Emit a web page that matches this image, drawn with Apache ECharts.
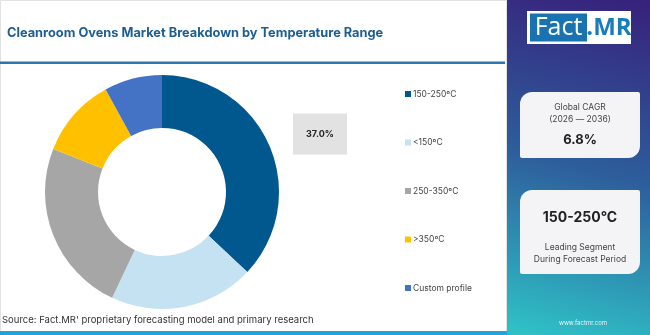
<!DOCTYPE html>
<html>
<head>
<meta charset="utf-8">
<script src="https://cdn.jsdelivr.net/npm/echarts@6/dist/echarts.min.js"></script>
<style>
  html, body { margin: 0; padding: 0; background: #fff; }
  #container { width: 650px; height: 335px; }
</style>
</head>
<body>
<div id="container"></div>
<script>
  // data
  var segments = ['150-250ºC', '<150ºC', '250-350ºC', '>350ºC', 'Custom profile'];
  var shares = [37.0, 20.0, 24.0, 11.0, 8.0];
  var segColors = ['#00588f', '#c5e2f2', '#a6a6a6', '#ffc000', '#4472c4'];

  var titleText = 'Cleanroom Ovens Market Breakdown by Temperature Range';
  var sourceText = "Source: Fact.MR' proprietary forecasting model and primary research";
  var cagrLines = ['Global CAGR', '(2026 — 2036)'];
  var cagrValue = '6.8%';
  var leadSegment = '150-250°C';
  var leadLines = ['Leading Segment', 'During Forecast Period'];

  var font = 'Inter, "Open Sans", sans-serif';

  var dom = document.getElementById('container');
  var myChart = echarts.init(dom, null, {renderer: 'canvas'});

  var pieData = [];
  segments.forEach(function (name, i) {
    var item = {name: name, value: shares[i], itemStyle: {color: segColors[i]}};
    if (i === 0) {
      item.label = {show: true};
    }
    pieData.push(item);
  });

  var option = {
    animation: false,
    backgroundColor: '#fff',
    title: {
      text: titleText,
      left: 2,
      top: 22,
      textStyle: {fontFamily: font, fontSize: 12.8, fontWeight: 'bold', color: '#1c5e92'}
    },
    legend: {
      orient: 'vertical',
      left: 400,
      top: 84,
      icon: 'rect',
      itemWidth: 6,
      itemHeight: 6,
      itemGap: 38.5,
      selectedMode: false,
      data: segments,
      textStyle: {fontFamily: font, fontSize: 8.5, color: '#444', lineHeight: 10, padding: [0, 0, 0, -3]}
    },
    series: [{
      type: 'pie',
      center: [162, 192],
      radius: [64, 117],
      startAngle: 90,
      clockwise: true,
      silent: true,
      label: {
        show: false,
        formatter: function (p) { return p.value.toFixed(1) + '%'; },
        backgroundColor: '#e2e2e2',
        padding: [16, 13],
        fontFamily: font,
        fontSize: 9,
        fontWeight: 'bold',
        color: '#222'
      },
      labelLine: {show: false},
      labelLayout: function () {
        return {x: 320, y: 134, align: 'center', verticalAlign: 'middle'};
      },
      data: pieData
    }],
    graphic: [
      // frame of the chart area
      {type: 'rect', shape: {x: 0.5, y: 0.5, width: 506, height: 334}, style: {fill: 'none', stroke: '#e2e2e2', lineWidth: 1}, z: 0},
      // rule under the title
      {type: 'rect', shape: {x: 0, y: 61.5, width: 505, height: 2.5}, style: {fill: '#2a76ad'}},
      // bottom band
      {type: 'rect', shape: {x: 0, y: 331, width: 507, height: 4}, style: {fill: '#1ea6dc'}},
      {type: 'text', x: 2, y: 320, style: {text: sourceText, fontFamily: font, fontSize: 9.5, fill: '#333', verticalAlign: 'middle'}},
      // right panel
      {
        type: 'rect', shape: {x: 507, y: 0, width: 143, height: 335},
        style: {
          fill: new echarts.graphic.LinearGradient(0.8, 0, 0.2, 1, [
            {offset: 0, color: '#37237c'},
            {offset: 0.5, color: '#2d5e9c'},
            {offset: 1, color: '#2fc0c6'}
          ])
        }
      },
      // logo
      {type: 'rect', shape: {x: 527, y: 11, width: 104, height: 33}, style: {fill: '#fff'}},
      {type: 'rect', shape: {x: 530, y: 13.5, width: 57, height: 28}, style: {fill: '#1a73b1'}},
      {type: 'text', x: 558.5, y: 28, style: {text: 'Fact', fontFamily: '"Open Sans", sans-serif', fontSize: 25, fill: '#fff', align: 'center', verticalAlign: 'middle'}},
      {type: 'text', x: 609, y: 28, style: {text: '.MR', fontFamily: '"Open Sans", sans-serif', fontSize: 24, fontWeight: 'bold', fill: '#1a7bbd', align: 'center', verticalAlign: 'middle'}},
      // CAGR card
      {type: 'rect', shape: {x: 520, y: 92, width: 120, height: 66, r: [12, 2, 12, 2]}, style: {fill: '#f4f4f6'}},
      {type: 'text', x: 580, y: 107, style: {text: cagrLines[0], fontFamily: font, fontSize: 8.5, fill: '#444', align: 'center', verticalAlign: 'middle'}},
      {type: 'text', x: 580, y: 119, style: {text: cagrLines[1], fontFamily: font, fontSize: 8.5, fill: '#444', align: 'center', verticalAlign: 'middle'}},
      {type: 'text', x: 580, y: 140, style: {text: cagrValue, fontFamily: font, fontSize: 13, fontWeight: 'bold', fill: '#222', align: 'center', verticalAlign: 'middle'}},
      // leading segment card
      {type: 'rect', shape: {x: 520, y: 190, width: 120, height: 84, r: [12, 2, 12, 2]}, style: {fill: '#f4f4f6'}},
      {type: 'text', x: 580, y: 218, style: {text: leadSegment, fontFamily: font, fontSize: 14, fontWeight: 'bold', fill: '#222', align: 'center', verticalAlign: 'middle'}},
      {type: 'text', x: 580, y: 247, style: {text: leadLines[0], fontFamily: font, fontSize: 8.5, fill: '#444', align: 'center', verticalAlign: 'middle'}},
      {type: 'text', x: 580, y: 259, style: {text: leadLines[1], fontFamily: font, fontSize: 8.5, fill: '#444', align: 'center', verticalAlign: 'middle'}},
      {type: 'text', x: 583, y: 323, style: {text: 'www.factmr.com', fontFamily: font, fontSize: 6, fill: '#e8f4f8', align: 'center', verticalAlign: 'middle'}}
    ]
  };

  if (option && typeof option === 'object') {
    myChart.setOption(option, true);
  }
</script>
</body>
</html>
